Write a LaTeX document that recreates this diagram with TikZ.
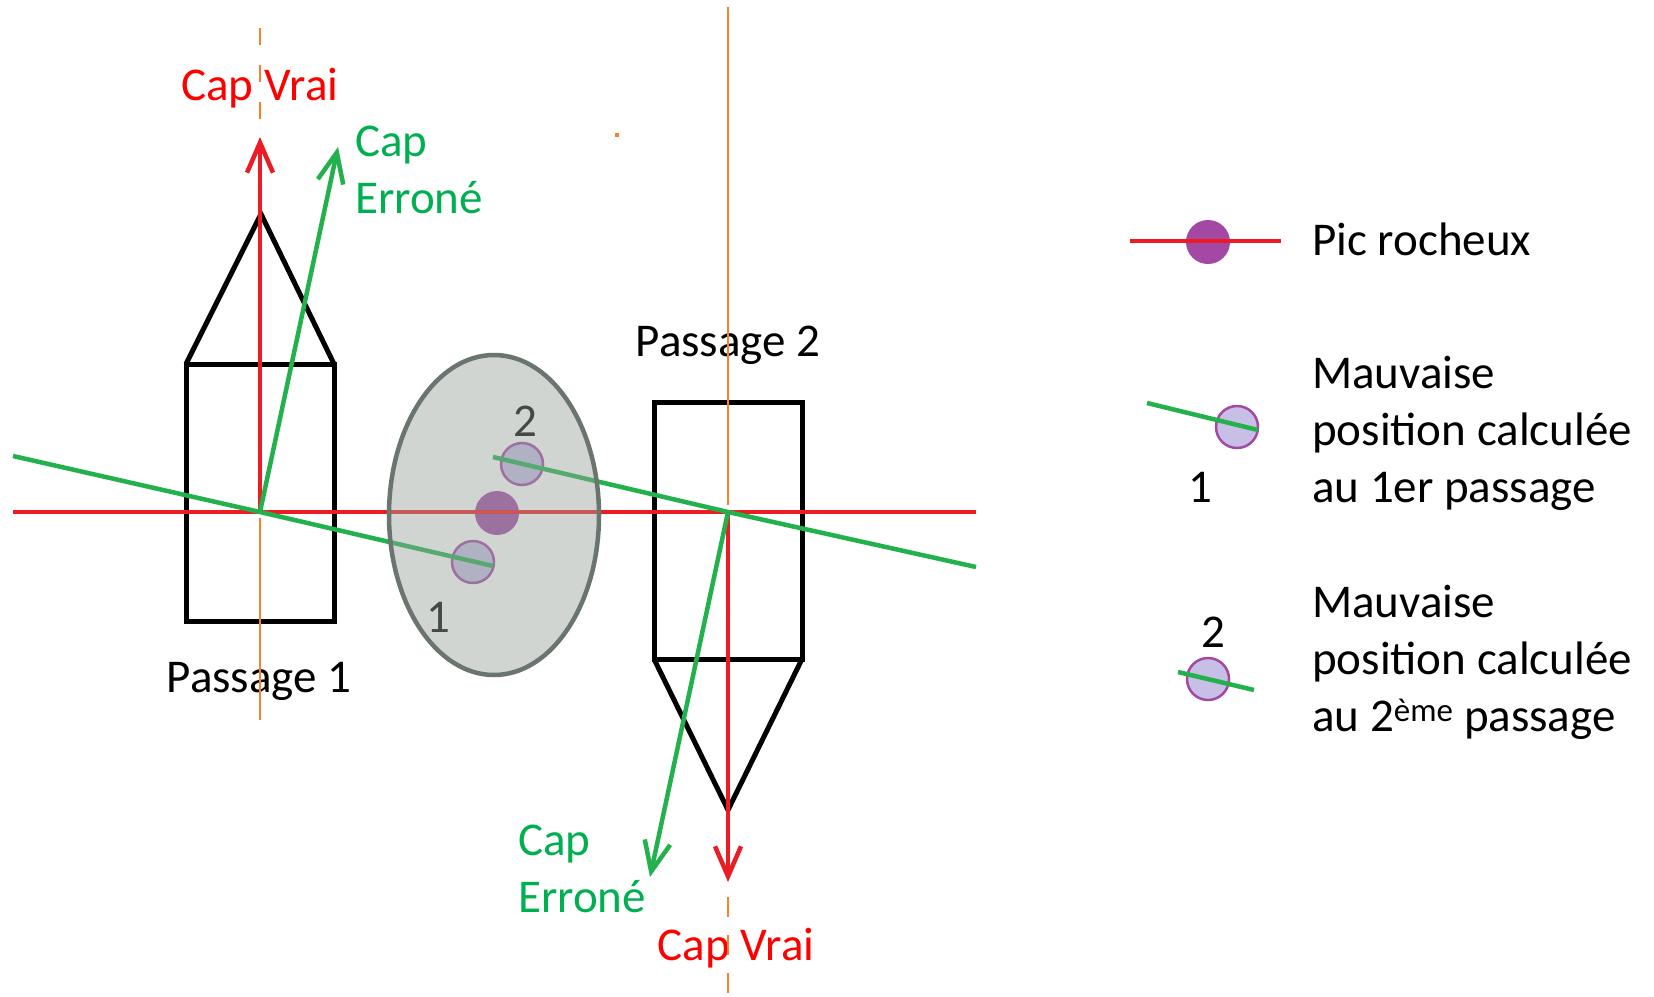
\documentclass[tikz,border=0pt]{standalone}
\usepackage{fontspec}
\setmainfont{Carlito}
\usetikzlibrary{arrows.meta}
\definecolor{capred}{HTML}{ED1C24}
\definecolor{txtred}{HTML}{FF0000}
\definecolor{capgreen}{HTML}{22B14C}
\definecolor{txtgreen}{HTML}{00B050}
\definecolor{axisorange}{HTML}{FF7F27}
\definecolor{rockpurple}{HTML}{A349A4}
\definecolor{fixlavender}{HTML}{C8BFE7}
\definecolor{zonegray}{HTML}{97A29B}
\definecolor{zoneedge}{HTML}{6A756F}

\begin{document}
\begin{tikzpicture}[x=1pt, y=-1pt,
  lbl/.style={font=\fontsize{47}{57}\selectfont, inner sep=0pt, align=left},
  hull/.style={draw=black, line width=5pt},
  redline/.style={draw=capred, line width=4.5pt},
  greenline/.style={draw=capgreen, line width=4.5pt},
  headarrow/.style={-{Straight Barb[length=30pt, width=26pt]}},
  axisline/.style={draw=axisorange, line width=2.5pt},
  rock/.style={circle, fill=rockpurple, minimum size=44pt, inner sep=0pt},
  fixpos/.style={circle, draw=rockpurple, line width=2.5pt, fill=fixlavender, minimum size=42pt, inner sep=0pt}]

\useasboundingbox (0,0) rectangle (1654,996);

% Ship centres and arrow ends
\coordinate (c1) at (260,512);
\coordinate (c2) at (728,512);
\coordinate (tipv1) at (260,137);
\coordinate (tipf1) at (338,147);
\coordinate (tipv2) at (728,882);
\coordinate (tipf2) at (650,877);

% Passage 1 (heading north)
\draw[hull] (186,364) rectangle (334,621);
\draw[hull] (186,364) -- (261,214) -- (334,364);

% Passage 2 (heading south)
\draw[hull] (654,402) rectangle (802,659);
\draw[hull] (654,659) -- (728,810) -- (802,659);

% Rock and wrong positions
\node[rock] (rock) at (497,513) {};
\node[fixpos] (fix1) at (473,562) {};
\node[fixpos] (fix2) at (522,464) {};
\node[lbl, anchor=base] (n1) at (438,632) {1};
\node[lbl, anchor=base] (n2) at (525,436) {2};

% Bearing lines
\coordinate (west) at (13,512);
\coordinate (east) at (976,512);
\coordinate (g1a) at (13,456);
\coordinate (g1b) at (493,566);
\coordinate (g2a) at (493,457);
\coordinate (g2b) at (976,567);
\draw[redline] (west) -- (east);
\draw[greenline] (g1a) -- (c1) -- (g1b);
\draw[greenline] (g2a) -- (c2) -- (g2b);

% Uncertainty zone
\draw[draw=zoneedge, line width=4.5pt, fill=zonegray, fill opacity=0.45] (494,515) ellipse [x radius=105pt, y radius=160pt];

% Headings
\draw[redline, headarrow] (c1) -- (tipv1);
\draw[greenline, headarrow] (c1) -- (tipf1);
\draw[redline, headarrow] (c2) -- (tipv2);
\draw[greenline, headarrow] (c2) -- (tipf2);

% Labels
\node[lbl, text=txtred, anchor=base] (vrai1) at (260,100) {Cap Vrai};
\node[lbl, text=txtgreen, anchor=base west] (faux1) at (355,213) {Cap\\Erroné};
\node[lbl, anchor=base] (pass1) at (259,692) {Passage 1};
\node[lbl, anchor=base] (pass2) at (728,356) {Passage 2};
\node[lbl, text=txtgreen, anchor=base west] (faux2) at (518,912) {Cap\\Erroné};
\node[lbl, text=txtred, anchor=base] (vrai2) at (736,960) {Cap Vrai};

% North-south axes
\draw[axisline, dash pattern=on 17pt off 20pt] (260,28) -- (260,137);
\draw[axisline] (260,518) -- (260,720);
\draw[axisline] (728,7) -- (728,505);
\draw[axisline, dash pattern=on 20pt off 18pt] (728,897) -- (728,996);
\fill[axisorange] (615,133) rectangle (619,137);

% Legend
\node[rock] (krock) at (1208,242) {};
\draw[redline] (1130,241) -- (1281,241);
\node[lbl, anchor=base west] (legrock) at (1312,255) {Pic rocheux};

\node[fixpos] (kfix1) at (1237,427) {};
\draw[greenline] (1147,403) -- (1258,430);
\node[lbl, anchor=base] (k1) at (1200,502) {1};
\node[lbl, anchor=base west] (legfix1) at (1312,502) {Mauvaise\\position calculée\\au 1er passage};

\node[fixpos] (kfix2) at (1208,679) {};
\draw[greenline] (1178,672) -- (1254,690);
\node[lbl, anchor=base] (k2) at (1213,647) {2};
\node[lbl, anchor=base west] (legfix2) at (1312,731) {Mauvaise\\position calculée\\au 2\textsuperscript{ème} passage};

\end{tikzpicture}
\end{document}
